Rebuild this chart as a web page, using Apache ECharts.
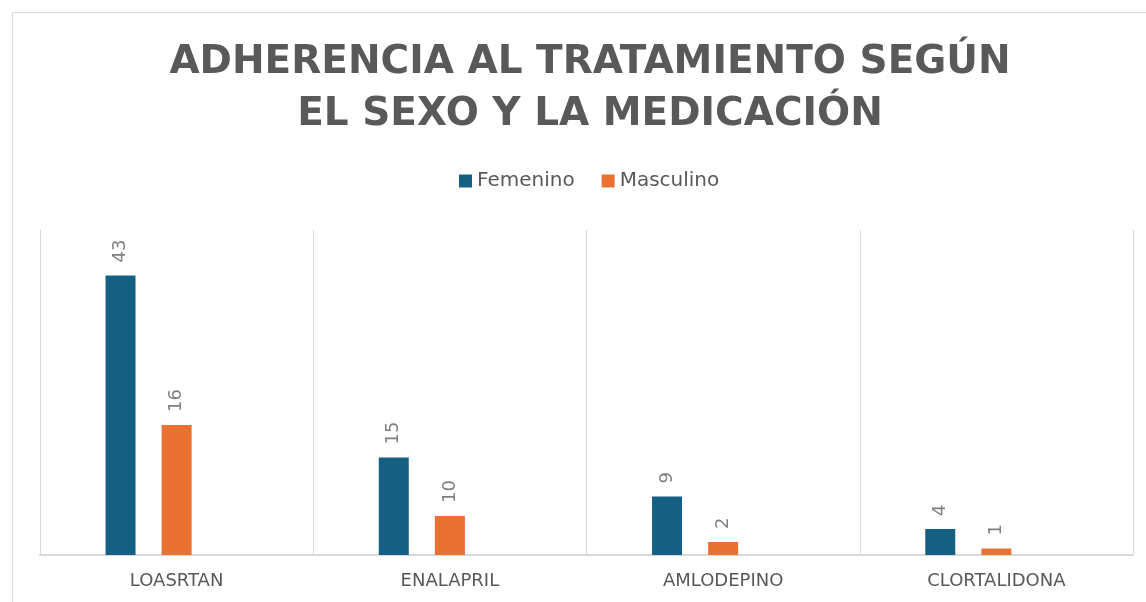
<!DOCTYPE html>
<html>
<head>
<meta charset="utf-8">
<script src="https://cdn.jsdelivr.net/npm/echarts@6/dist/echarts.min.js"></script>
<style>
  html, body { margin: 0; padding: 0; background: #fff; }
  #chart { width: 1146px; height: 602px; }
</style>
</head>
<body>
<div id="chart"></div>
<script>
// categorías (tal como aparecen en el gráfico)
const medicamentos = ['LOASRTAN', 'ENALAPRIL', 'AMLODEPINO', 'CLORTALIDONA'];

// alturas de las barras
const femenino = [43, 15, 9, 4];
const masculino = [20, 6, 2, 1];

// etiquetas de datos tal como están escritas en el gráfico
const etiquetasFemenino = ['43', '15', '9', '4'];
const etiquetasMasculino = ['16', '10', '2', '1'];

const GRIS = '#595959';
const FUENTE = 'DejaVu Sans';

const chart = echarts.init(document.getElementById('chart'));

// etiqueta vertical encima de cada barra
const etiqueta = (textos) => ({
  show: true,
  position: 'top',
  rotate: 90,
  align: 'left',
  verticalAlign: 'middle',
  distance: 13,
  color: '#7f7f7f',
  fontSize: 18,
  fontFamily: FUENTE,
  formatter: (p) => textos[p.dataIndex]
});

chart.setOption({
  animation: false,
  graphic: [{
    type: 'rect',
    shape: { x: 12.5, y: 12.5, width: 1160, height: 620 },
    style: { fill: 'none', stroke: '#d9d9d9', lineWidth: 1 },
    silent: true
  }],
  title: {
    text: 'ADHERENCIA AL TRATAMIENTO SEGÚN\nEL SEXO Y LA MEDICACIÓN',
    left: 585,
    textAlign: 'center',
    top: 32,
    textStyle: {
      color: GRIS,
      fontSize: 39,
      fontWeight: 'bold',
      fontFamily: FUENTE,
      lineHeight: 52
    }
  },
  legend: {
    data: ['Femenino', 'Masculino'],
    left: 454,
    top: 166,
    icon: 'rect',
    itemWidth: 13,
    itemHeight: 13,
    itemGap: 27,
    textStyle: { color: GRIS, fontSize: 20, fontFamily: FUENTE }
  },
  grid: { left: 40, right: 13, top: 230, bottom: 47 },
  xAxis: {
    type: 'category',
    data: medicamentos,
    axisLine: { lineStyle: { color: '#d9d9d9', width: 2 } },
    axisTick: { show: false },
    splitLine: { show: true, lineStyle: { color: '#d9d9d9', width: 1 } },
    axisLabel: { color: GRIS, fontSize: 18, fontFamily: FUENTE, margin: 17 }
  },
  yAxis: {
    type: 'value',
    min: 0,
    max: 50,
    show: false,
    splitLine: { show: false }
  },
  series: [
    {
      name: 'Femenino',
      type: 'bar',
      data: femenino,
      barWidth: 30,
      barGap: '87%',
      itemStyle: { color: '#156082' },
      label: etiqueta(etiquetasFemenino)
    },
    {
      name: 'Masculino',
      type: 'bar',
      data: masculino,
      barWidth: 30,
      barGap: '87%',
      itemStyle: { color: '#e97132' },
      label: etiqueta(etiquetasMasculino)
    },
    {
      // serie vacía: deja el hueco a la derecha de cada grupo
      name: 'vacío',
      type: 'bar',
      data: [null, null, null, null],
      barWidth: 30,
      barGap: '87%'
    }
  ]
});
</script>
</body>
</html>
